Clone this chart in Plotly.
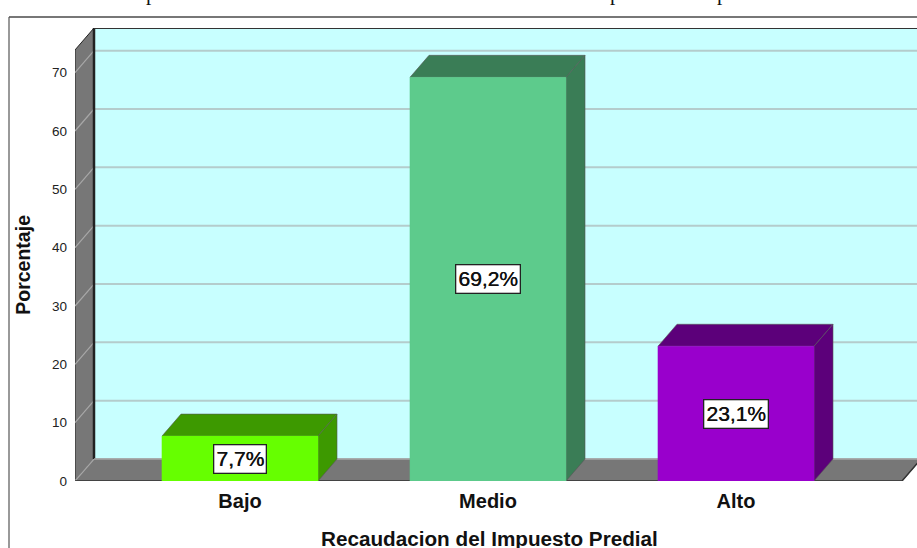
import plotly.graph_objects as go

categories = ["Bajo", "Medio", "Alto"]
values = [7.7, 69.2, 23.1]
value_labels = ["7,7%", "69,2%", "23,1%"]
front_colors = ["#66FF00", "#5DCB8C", "#9900CC"]
top_colors = ["#3D9900", "#3A7D56", "#5C007A"]
side_colors = ["#3D9900", "#3A7D56", "#5C007A"]
y_ticks = [0, 10, 20, 30, 40, 50, 60, 70]
x_title = "Recaudacion del Impuesto Predial"
y_title = "Porcentaje"
cut_off_title_letters = ["p", "p", "p"]
cut_off_title_px = [151, 615, 722]

W, H = 917, 548
ML, MT, MB = 75, 28, 66.5
PX_CAT = 248.0
CAT0_PX = 240.0
PX_UNIT = 5.84
DX = 19 / PX_CAT
DY = 22 / PX_UNIT
HALF = 78 / PX_CAT
XMIN = (ML - CAT0_PX) / PX_CAT
XMAX = (W - CAT0_PX) / PX_CAT
XFLOOR = (902 - CAT0_PX) / PX_CAT
YMAX = (H - MB - MT) / PX_UNIT
YTOP = YMAX - DY
WALL = "#777777"
CYAN = "#C8FFFF"
X_BACK = XMIN + DX


def poly(xs, ys, fill, line=None, width=1):
    return go.Scatter(
        x=xs + xs[:1], y=ys + ys[:1], mode="lines", fill="toself", fillcolor=fill,
        line=dict(color=line or fill, width=width), hoverinfo="skip", showlegend=False,
    )


def seg(xs, ys, color, width):
    return go.Scatter(x=xs, y=ys, mode="lines", line=dict(color=color, width=width),
                      hoverinfo="skip", showlegend=False)


fig = go.Figure()
fig.add_trace(poly([X_BACK, XMAX + 1, XMAX + 1, X_BACK], [DY, DY, YMAX, YMAX], CYAN))
fig.add_trace(poly([XMIN, X_BACK, X_BACK, XMIN], [0, DY, YMAX, YTOP], WALL, "#222222", 1))
fig.add_trace(poly([XMIN, XFLOOR, XFLOOR + DX, X_BACK], [0, 0, DY, DY], WALL, "#777777", 1))

for t in y_ticks[1:]:
    fig.add_trace(seg([X_BACK, XMAX + 1], [t + DY, t + DY], "#B4CCCC", 2))
for t in y_ticks:
    fig.add_trace(seg([XMIN, X_BACK], [t, t + DY], "#A8A8A8", 1.2))

fig.add_trace(seg([X_BACK, X_BACK], [DY, YMAX], "#222222", 2.5))
fig.add_trace(seg([X_BACK, XMAX + 1], [YMAX, YMAX], "#333333", 2))
fig.add_trace(seg([XMIN, XFLOOR, XFLOOR + DX], [0, 0, DY], "#333333", 1.5))
fig.add_trace(seg([X_BACK, XFLOOR + DX], [DY, DY], "#A8A8A8", 1.5))

for i, v in enumerate(values):
    l, r = i - HALF, i + HALF
    fig.add_trace(poly([l, r, r + DX, l + DX], [v, v, v + DY, v + DY], top_colors[i], "#555555", 0.6))
    fig.add_trace(poly([r, r + DX, r + DX, r], [0, DY, v + DY, v], side_colors[i], "#555555", 0.6))
    fig.add_trace(poly([l, r, r, l], [0, 0, v, v], front_colors[i], front_colors[i], 0.6))

for i, (v, txt) in enumerate(zip(values, value_labels)):
    fig.add_annotation(
        x=i, y=v / 2, text=txt, showarrow=False, bgcolor="white", bordercolor="#222222", borderwidth=1.3,
        borderpad=2, font=dict(family="Liberation Sans", size=21, color="#111111", shadow="0.4px 0 0 #111111"),
    )

for letter, px in zip(cut_off_title_letters, cut_off_title_px):
    fig.add_annotation(
        xref="paper", yref="paper", x=(px - ML) / (W - ML), y=1 + (MT + 7) / (H - MT - MB),
        text=letter, showarrow=False, xanchor="center", yanchor="middle",
        font=dict(family="Liberation Serif", size=21, color="#111111"),
    )

PH = H - MT - MB
PW = W - ML
fig.add_annotation(
    xref="paper", yref="paper", x=(489 - ML) / PW, y=1 - (539 - MT) / PH, text=x_title, showarrow=False,
    xanchor="center", yanchor="middle", font=dict(size=20.7, family="Liberation Sans", weight="bold", color="#111111"),
)
fig.add_annotation(
    xref="paper", yref="paper", x=(23 - ML) / PW, y=1 - (265 - MT) / PH, text=y_title, showarrow=False,
    textangle=-90, xanchor="center", yanchor="middle",
    font=dict(size=19.5, family="Liberation Sans", weight="bold", color="#111111"),
)

frame_x = (9 - ML) / PW
frame_y = 1 + (MT - 17) / PH
fig.add_shape(type="line", xref="paper", yref="paper", x0=frame_x, x1=1.02, y0=frame_y, y1=frame_y,
              line=dict(color="#777777", width=2))
fig.add_shape(type="line", xref="paper", yref="paper", x0=frame_x, x1=frame_x, y0=frame_y, y1=-0.2,
              line=dict(color="#555555", width=1.2))

fig.update_layout(
    width=W, height=H, margin=dict(l=ML, r=0, t=MT, b=MB, autoexpand=False),
    paper_bgcolor="white", plot_bgcolor="white", showlegend=False,
    font=dict(family="Liberation Sans", color="#111111"),
    xaxis=dict(
        range=[XMIN, XMAX], tickmode="array", tickvals=[0, 1, 2], ticktext=categories, showgrid=False,
        zeroline=False, showline=False, ticks="", ticklabelstandoff=6,
        tickfont=dict(size=20, family="Liberation Sans", weight="bold"),
    ),
    yaxis=dict(
        range=[0, YMAX], tickmode="array", tickvals=y_ticks, showgrid=False, zeroline=False, showline=False,
        ticks="", ticklabelstandoff=7, tickfont=dict(size=13.5, family="Liberation Sans", color="#222222"),
    ),
)

fig.write_html("out.html", config={"displayModeBar": False},
               post_script="document.body.style.margin='0';document.body.style.overflow='hidden';")
